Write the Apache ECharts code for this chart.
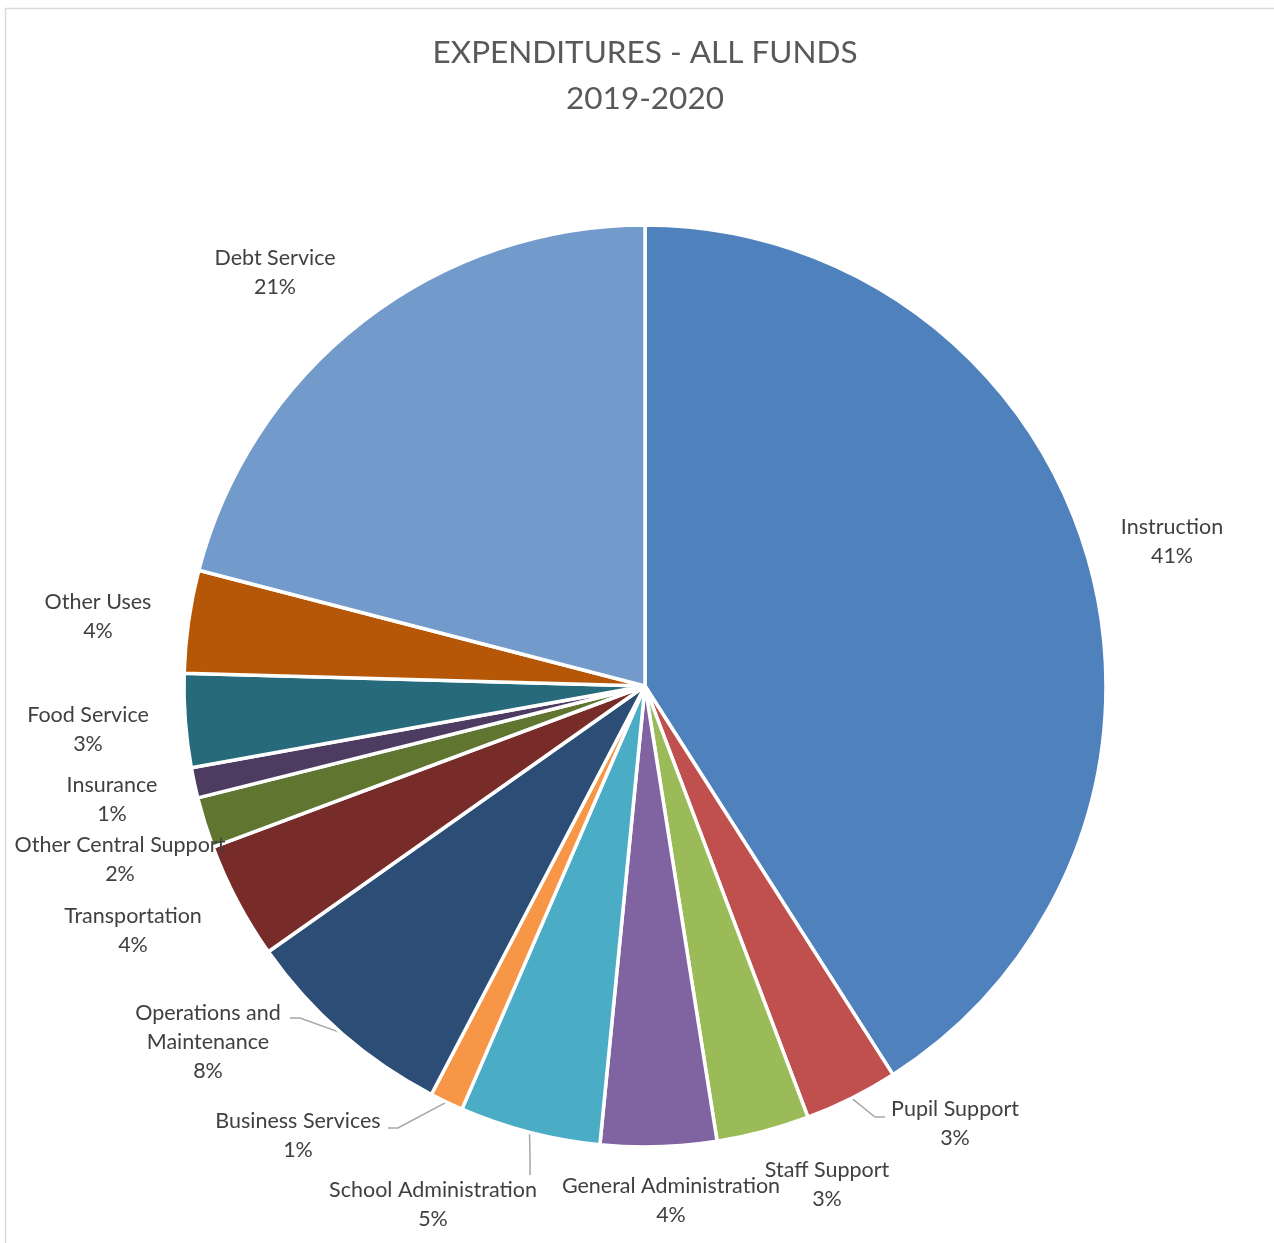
<!DOCTYPE html>
<html>
<head>
<meta charset="utf-8">
<script src="https://cdn.jsdelivr.net/npm/echarts@6/dist/echarts.min.js"></script>
<style>
html,body{margin:0;padding:0;background:#fff;}
#chart{width:1274px;height:1243px;}
</style>
</head>
<body>
<div id="chart"></div>
<script>
const categories = ["Instruction","Pupil Support","Staff Support","General Administration","School Administration","Business Services","Operations and Maintenance","Transportation","Other Central Support","Insurance","Food Service","Other Uses","Debt Service"];
const shares = [40.96, 3.29, 3.25, 4.06, 4.94, 1.17, 7.55, 4.10, 1.78, 1.06, 3.28, 3.60, 20.96];
const colors = ["#4F81BD","#C0504D","#9BBB59","#8064A2","#4BACC6","#F79646","#2C4D75","#772C2A","#5F7530","#4D3B62","#276A7C","#B65708","#729ACA"];

// label placement (label block centers) and leader lines (bend, end) — layout only
const labelPos = [[1172,542],[955,1124],[827,1185],[671,1201],[433,1205],[298,1136],[208,1042],[133,931],[120,860],[112,800],[88,730],[98,617],[275,273]];
const leaders = {1:[[875,1117],[885,1117]], 4:[[530,1155],[530,1175]], 5:[[398,1128],[388,1128]], 6:[[300,1018],[290,1018]]};

const chart = echarts.init(document.getElementById('chart'));
const data = categories.map((n,i)=>({
  name:n, value:shares[i],
  itemStyle:{color:colors[i]},
  labelLine:{show: leaders[i] !== undefined}
}));
chart.setOption({
  animation:false,
  title:{
    text:'EXPENDITURES - ALL FUNDS\n2019-2020',
    left:640, top:25, textAlign:'center',
    textStyle:{fontFamily:'Lato', fontSize:31.5, fontWeight:'normal', color:'#595959', lineHeight:46}
  },
  graphic:[{type:'rect', shape:{x:5.5,y:8.5,width:1300,height:1300}, style:{fill:'none', stroke:'#d9d9d9', lineWidth:1.5}, silent:true}],
  series:[{
    type:'pie',
    center:[645,686],
    radius:461,
    startAngle:90,
    clockwise:true,
    avoidLabelOverlap:false,
    itemStyle:{borderColor:'#fff', borderWidth:3.5},
    label:{
      show:true, position:'outside',
      fontFamily:'Lato', fontSize:21.5, color:'#404040', lineHeight:29, align:'center',
      formatter:p => p.name.replace(' Maintenance','\nMaintenance') + '\n' + Math.round(p.percent) + '%'
    },
    labelLine:{lineStyle:{color:'#a6a6a6', width:1.5}, length:10, length2:10},
    labelLayout: function(params){
      const i = params.dataIndex;
      const pos = labelPos[i];
      const out = {x:pos[0], y:pos[1], align:'center', verticalAlign:'middle'};
      if (leaders[i] && params.labelLinePoints) {
        out.labelLinePoints = [params.labelLinePoints[0], leaders[i][0], leaders[i][1]];
      }
      return out;
    },
    data:data
  }]
});
</script>
</body>
</html>
